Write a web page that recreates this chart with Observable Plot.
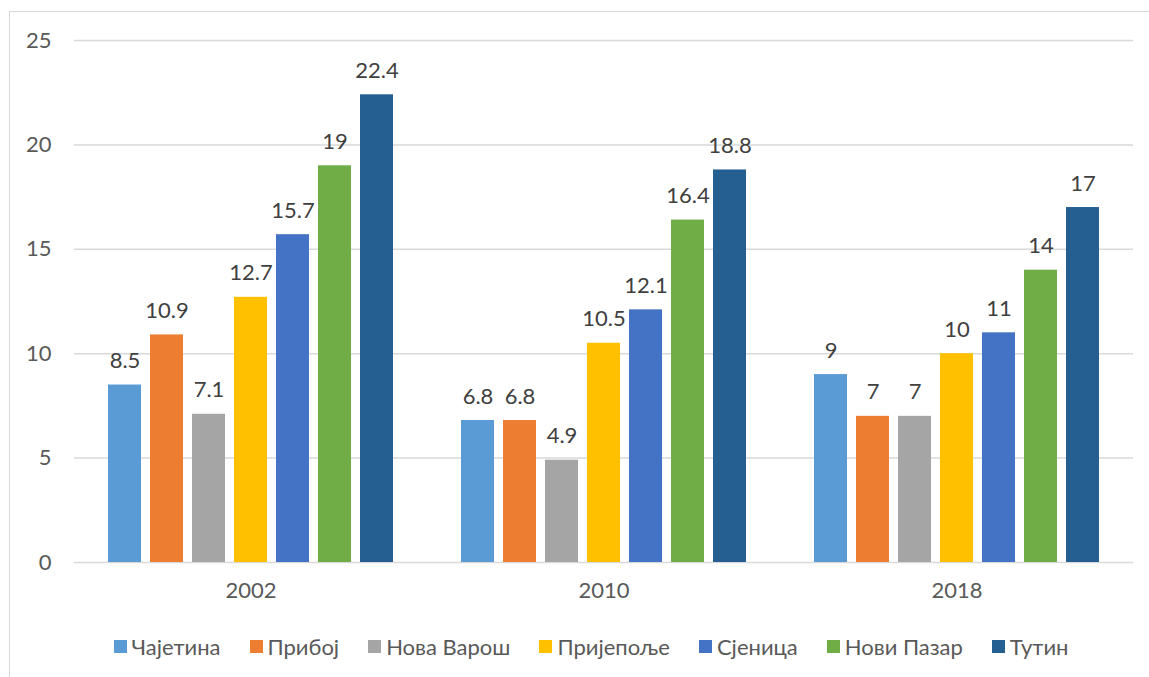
<!DOCTYPE html>
<html>
<head>
<meta charset="utf-8">
<script src="https://cdn.jsdelivr.net/npm/d3@7"></script>
<script src="https://cdn.jsdelivr.net/npm/@observablehq/plot@0.6"></script>
<style>
  html, body { margin: 0; padding: 0; background: #fff; overflow: hidden; }
  body { width: 1149px; height: 677px; position: relative; font-family: Lato, "Open Sans", sans-serif; }
  #frame { position: absolute; left: 9px; top: 11px; width: 1300px; height: 800px; border: 1.5px solid #d9d9d9; box-sizing: border-box; }
  #chart { position: absolute; left: 0; top: 0; }
  #legend { position: absolute; left: 0; top: 633px; width: 1182px; display: flex; justify-content: center; align-items: center; font-size: 22px; color: #595959; }
  .item { display: flex; align-items: center; margin: 0 14.5px; }
  .sw { width: 13px; height: 13px; margin-right: 5px; }
</style>
</head>
<body>
<div id="frame"></div>
<div id="chart"></div>
<div id="legend"></div>
<script>
const years = ["2002", "2010", "2018"];
const series = ["Чајетина", "Прибој", "Нова Варош", "Пријепоље", "Сјеница", "Нови Пазар", "Тутин"];
const colors = ["#5B9BD5", "#ED7D31", "#A5A5A5", "#FFC000", "#4472C4", "#70AD47", "#255E91"];
const values2002 = [8.5, 10.9, 7.1, 12.7, 15.7, 19, 22.4];
const values2010 = [6.8, 6.8, 4.9, 10.5, 12.1, 16.4, 18.8];
const values2018 = [9, 7, 7, 10, 11, 14, 17];
const yTicks = [0, 5, 10, 15, 20, 25];

const valuesByYear = [values2002, values2010, values2018];
const data = [];
years.forEach((yr, i) => {
  series.forEach((s, j) => {
    data.push({year: yr, series: s, value: valuesByYear[i][j]});
  });
});

const fmt = v => String(v);

const chart = Plot.plot({
  width: 1149,
  height: 620,
  marginLeft: 73,
  marginRight: 15,
  marginTop: 40,
  marginBottom: 58,
  style: {fontFamily: "Lato, 'Open Sans', sans-serif", fontSize: "22px", color: "#595959", background: "transparent"},
  fx: {domain: years, padding: 0, label: null, axis: "bottom", tickSize: 0, tickPadding: 20},
  x: {domain: series, paddingInner: 0.21, paddingOuter: 0.8, axis: null},
  y: {domain: [0, 25], ticks: yTicks, label: null, tickSize: 0, tickPadding: 23},
  color: {domain: series, range: colors},
  marks: [
    Plot.ruleY(yTicks, {stroke: "#d9d9d9", strokeWidth: 1.5}),
    Plot.barY(data, {fx: "year", x: "series", y: "value", fill: "series"}),
    Plot.text(data, {fx: "year", x: "series", y: "value", text: d => fmt(d.value), lineAnchor: "bottom", dy: -17, fill: "#404040", fontSize: 22})
  ]
});
document.getElementById("chart").appendChild(chart);

const legend = document.getElementById("legend");
series.forEach((s, i) => {
  const item = document.createElement("div");
  item.className = "item";
  const sw = document.createElement("div");
  sw.className = "sw";
  sw.style.background = colors[i];
  const t = document.createElement("span");
  t.textContent = s;
  item.appendChild(sw);
  item.appendChild(t);
  legend.appendChild(item);
});
</script>
</body>
</html>
